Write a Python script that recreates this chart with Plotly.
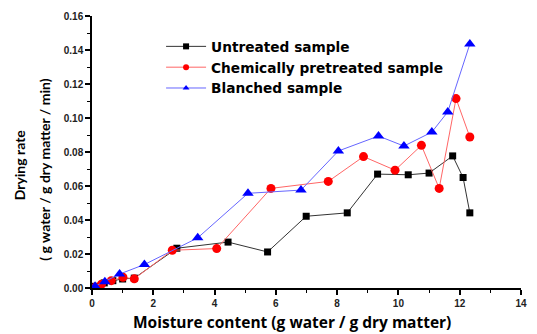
import plotly.graph_objects as go

# Moisture content (g water / g dry matter) and drying rate (g water / g dry matter / min)
untreated_x = [0.1, 0.4, 0.68, 1.0, 1.38, 2.77, 4.44, 5.73, 6.99, 8.33, 9.32, 10.32, 11.0, 11.77, 12.11, 12.33]
untreated_y = [0.001, 0.003, 0.0043, 0.0053, 0.0058, 0.0234, 0.027, 0.0212, 0.0422, 0.0442, 0.067, 0.0666, 0.0676, 0.0777, 0.065, 0.0442]

chem_x = [0.1, 0.31, 0.63, 1.01, 1.38, 2.62, 4.07, 5.84, 7.71, 8.86, 9.89, 10.75, 11.33, 11.88, 12.33]
chem_y = [0.0004, 0.0022, 0.0043, 0.0063, 0.0054, 0.0222, 0.0232, 0.0586, 0.0627, 0.0773, 0.0693, 0.0839, 0.0586, 0.1114, 0.0888]

blanched_x = [0.1, 0.42, 0.9, 1.71, 3.45, 5.09, 6.82, 8.04, 9.35, 10.18, 11.09, 11.61, 12.33]
blanched_y = [0.001, 0.0037, 0.0082, 0.0138, 0.0295, 0.0557, 0.0576, 0.0806, 0.0894, 0.0835, 0.0917, 0.1036, 0.1435]

x_ticks = [0, 2, 4, 6, 8, 10, 12, 14]
y_ticks = [0.00, 0.02, 0.04, 0.06, 0.08, 0.10, 0.12, 0.14, 0.16]

series = [
    ("Untreated sample", untreated_x, untreated_y, "#333333", "black", "square", 7),
    ("Chemically pretreated sample", chem_x, chem_y, "#ff6666", "red", "circle", 9),
    ("Blanched sample", blanched_x, blanched_y, "#6666ff", "blue", "triangle-up", 10),
]

fig = go.Figure()
for name, xs, ys, lc, mc, sym, size in series:
    fig.add_trace(go.Scatter(x=xs, y=ys, mode="lines+markers", name=name, showlegend=False,
                             line=dict(color=lc, width=1),
                             marker=dict(symbol=sym, size=size, color=mc)))
# legend entries use smaller symbols than the plotted markers
for name, xs, ys, lc, mc, sym, size in series:
    fig.add_trace(go.Scatter(x=[None], y=[None], mode="lines+markers", name=name,
                             line=dict(color=lc, width=1),
                             marker=dict(symbol=sym, size=6, color=mc)))

axis_common = dict(showline=True, linecolor="black", linewidth=1.5, ticks="outside",
                   ticklen=5, tickwidth=1.5, tickcolor="black", showgrid=False,
                   zeroline=False, mirror=False,
                   tickfont=dict(family="Liberation Sans", size=10, color="#222222", weight="bold"))

fig.update_xaxes(range=[0, 14], tickvals=x_ticks, ticktext=[str(v) for v in x_ticks],
                 minor=dict(ticks="outside", ticklen=3, tickwidth=1, tickcolor="black", dtick=1, tick0=0),
                 **axis_common)
fig.update_yaxes(range=[0, 0.16], tickvals=y_ticks, ticktext=[f"{v:.2f}" for v in y_ticks],
                 minor=dict(ticks="outside", ticklen=3, tickwidth=1, tickcolor="black", dtick=0.01, tick0=0),
                 **axis_common)

fig.add_annotation(text="Moisture content (g water / g dry matter)", xref="paper", yref="paper",
                   x=0, y=0, xanchor="center", yanchor="middle", xshift=200, yshift=-34,
                   showarrow=False,
                   font=dict(family="Open Sans", size=15.5, weight="bold", color="black"))
ytitle_font = dict(family="Lato", size=14, weight="bold", color="black")
fig.add_annotation(text="Drying rate", xref="paper", yref="paper", textangle=-90,
                   x=0, y=0.451, xanchor="center", yanchor="middle", xshift=-73,
                   showarrow=False, font=ytitle_font)
fig.add_annotation(text="( g water / g dry matter / min)", xref="paper", yref="paper", textangle=-90,
                   x=0, y=0.435, xanchor="center", yanchor="middle", xshift=-47,
                   showarrow=False, font=ytitle_font)

fig.update_layout(
    width=537, height=334,
    margin=dict(l=92, r=10, t=13, b=46),
    plot_bgcolor="white", paper_bgcolor="white",
    showlegend=True,
    legend=dict(x=0.161, y=0.945, xanchor="left", yanchor="top",
                bgcolor="rgba(0,0,0,0)",
                font=dict(family="DejaVu Sans", size=13.7, color="black", weight="bold"),
                tracegroupgap=0, itemwidth=40),
)

fig.write_html("out.html")
